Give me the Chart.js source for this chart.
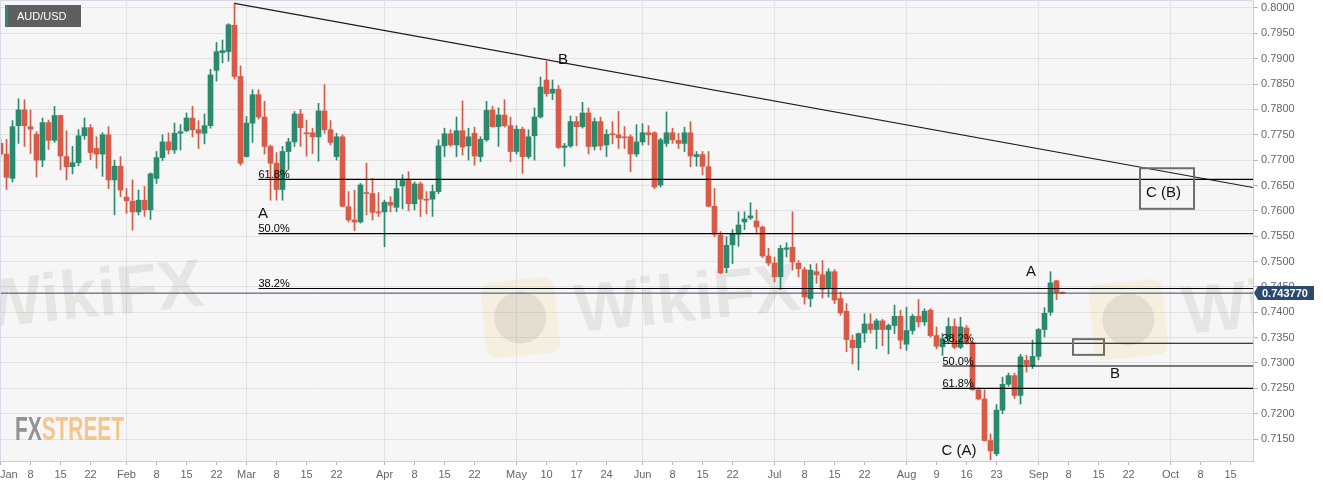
<!DOCTYPE html>
<html>
<head>
<meta charset="utf-8">
<title>AUD/USD daily</title>
<script src="https://cdn.jsdelivr.net/npm/chart.js@4.4.1/dist/chart.umd.min.js"></script>
<style>
  html, body { margin: 0; padding: 0; background: #fff; }
  #wrap { width: 1323px; height: 487px; position: relative; }
</style>
</head>
<body>
<div id="wrap"><canvas id="chart"></canvas></div>
<script>
// one candle per weekday, index 0 = Fri 1 Jan 2021
const opens = [
  0.7733,0.7712,0.7664,0.7768,0.7799,0.7766,0.7751,0.7700,0.7774,0.7739,
  0.7788,0.7707,0.7687,0.7695,0.7748,0.7764,0.7723,0.7712,0.7750,0.7661,
  0.7688,0.7627,0.7619,0.7598,0.7621,0.7602,0.7664,0.7705,0.7736,0.7720,
  0.7753,0.7758,0.7783,0.7760,0.7753,0.7768,0.7877,0.7912,0.7914,0.7966,
  0.7865,0.7707,0.7773,0.7829,0.7785,0.7727,0.7694,0.7642,0.7717,0.7736,
  0.7791,0.7754,0.7754,0.7746,0.7797,0.7760,0.7707,0.7746,0.7608,0.7582,
  0.7578,0.7636,0.7634,0.7598,0.7598,0.7617,0.7607,0.7649,0.7660,0.7614,
  0.7653,0.7623,0.7623,0.7638,0.7728,0.7752,0.7730,0.7758,0.7728,0.7753,
  0.7707,0.7740,0.7799,0.7766,0.7789,0.7768,0.7717,0.7761,0.7707,0.7748,
  0.7785,0.7858,0.7832,0.7840,0.7725,0.7728,0.7776,0.7766,0.7793,0.7727,
  0.7776,0.7730,0.7751,0.7750,0.7746,0.7746,0.7712,0.7736,0.7754,0.7754,
  0.7651,0.7733,0.7754,0.7739,0.7733,0.7754,0.7707,0.7711,0.7687,0.7609,
  0.7552,0.7488,0.7533,0.7554,0.7578,0.7586,0.7580,0.7568,0.7511,0.7497,
  0.7470,0.7524,0.7528,0.7497,0.7484,0.7427,0.7480,0.7474,0.7447,0.7480,
  0.7427,0.7402,0.7345,0.7330,0.7359,0.7377,0.7366,0.7383,0.7366,0.7374,
  0.7392,0.7337,0.7364,0.7392,0.7381,0.7404,0.7354,0.7332,0.7348,0.7372,
  0.7331,0.7369,0.7340,0.7247,0.7229,0.7147,0.7121,0.7207,0.7258,0.7275,
  0.7236,0.7305,0.7295,0.7313,0.7366,0.7400,0.7462,0.7438
];
const highs = [
  0.7743,0.7741,0.7778,0.7821,0.7819,0.7799,0.7756,0.7783,0.7779,0.7806,
  0.7789,0.7758,0.7727,0.7760,0.7783,0.7770,0.7746,0.7754,0.7766,0.7700,
  0.7707,0.7644,0.7661,0.7641,0.7648,0.7675,0.7717,0.7750,0.7754,0.7773,
  0.7770,0.7793,0.7806,0.7778,0.7791,0.7879,0.7932,0.7937,0.7969,0.8010,
  0.7886,0.7786,0.7839,0.7839,0.7816,0.7730,0.7715,0.7727,0.7743,0.7796,
  0.7800,0.7779,0.7763,0.7812,0.7849,0.7778,0.7753,0.7750,0.7638,0.7641,
  0.7654,0.7694,0.7664,0.7636,0.7621,0.7628,0.7661,0.7671,0.7677,0.7657,
  0.7657,0.7638,0.7651,0.7740,0.7763,0.7760,0.7785,0.7817,0.7763,0.7765,
  0.7746,0.7816,0.7806,0.7803,0.7819,0.7785,0.7768,0.7765,0.7760,0.7803,
  0.7864,0.7895,0.7858,0.7847,0.7733,0.7787,0.7786,0.7814,0.7803,0.7783,
  0.7785,0.7760,0.7776,0.7796,0.7766,0.7750,0.7770,0.7772,0.7768,0.7756,
  0.7743,0.7795,0.7763,0.7753,0.7765,0.7776,0.7717,0.7717,0.7717,0.7644,
  0.7559,0.7549,0.7563,0.7598,0.7598,0.7616,0.7602,0.7570,0.7526,0.7509,
  0.7532,0.7537,0.7598,0.7502,0.7489,0.7494,0.7496,0.7502,0.7486,0.7484,
  0.7440,0.7417,0.7355,0.7359,0.7397,0.7397,0.7387,0.7386,0.7377,0.7414,
  0.7404,0.7410,0.7396,0.7425,0.7407,0.7407,0.7371,0.7358,0.7389,0.7387,
  0.7390,0.7374,0.7341,0.7251,0.7247,0.7160,0.7218,0.7272,0.7280,0.7280,
  0.7317,0.7315,0.7345,0.7368,0.7409,0.7480,0.7463,0.7440
];
const lows = [
  0.7707,0.7642,0.7657,0.7733,0.7727,0.7713,0.7667,0.7687,0.7721,0.7735,
  0.7681,0.7661,0.7673,0.7689,0.7741,0.7701,0.7684,0.7668,0.7644,0.7592,
  0.7628,0.7595,0.7562,0.7592,0.7589,0.7583,0.7654,0.7699,0.7712,0.7713,
  0.7720,0.7756,0.7746,0.7723,0.7732,0.7763,0.7856,0.7892,0.7895,0.7860,
  0.7690,0.7706,0.7735,0.7781,0.7712,0.7621,0.7621,0.7621,0.7681,0.7727,
  0.7727,0.7708,0.7713,0.7698,0.7753,0.7730,0.7700,0.7608,0.7578,0.7561,
  0.7576,0.7592,0.7582,0.7589,0.7529,0.7598,0.7598,0.7604,0.7600,0.7602,
  0.7589,0.7594,0.7589,0.7634,0.7707,0.7727,0.7707,0.7710,0.7700,0.7690,
  0.7697,0.7737,0.7765,0.7727,0.7765,0.7697,0.7712,0.7674,0.7703,0.7700,
  0.7783,0.7826,0.7819,0.7723,0.7688,0.7725,0.7728,0.7763,0.7712,0.7720,
  0.7720,0.7707,0.7732,0.7723,0.7723,0.7677,0.7707,0.7730,0.7730,0.7644,
  0.7647,0.7727,0.7733,0.7723,0.7717,0.7687,0.7688,0.7671,0.7608,0.7549,
  0.7476,0.7478,0.7496,0.7530,0.7563,0.7583,0.7554,0.7508,0.7492,0.7460,
  0.7445,0.7509,0.7483,0.7470,0.7416,0.7411,0.7457,0.7428,0.7430,0.7417,
  0.7394,0.7322,0.7298,0.7286,0.7341,0.7359,0.7328,0.7334,0.7318,0.7358,
  0.7328,0.7325,0.7357,0.7371,0.7374,0.7351,0.7328,0.7315,0.7338,0.7328,
  0.7328,0.7337,0.7246,0.7227,0.7146,0.7109,0.7117,0.7200,0.7254,0.7230,
  0.7219,0.7282,0.7289,0.7306,0.7351,0.7394,0.7425,0.7436
];
const closes = [
  0.7712,0.7666,0.7766,0.7799,0.7768,0.7761,0.7700,0.7774,0.7739,0.7788,
  0.7708,0.7687,0.7695,0.7748,0.7764,0.7715,0.7712,0.7750,0.7661,0.7688,
  0.7641,0.7620,0.7598,0.7621,0.7602,0.7673,0.7705,0.7736,0.7720,0.7753,
  0.7756,0.7783,0.7760,0.7753,0.7768,0.7868,0.7914,0.7916,0.7967,0.7865,
  0.7694,0.7773,0.7829,0.7785,0.7727,0.7694,0.7642,0.7717,0.7736,0.7791,
  0.7764,0.7752,0.7746,0.7797,0.7760,0.7735,0.7746,0.7609,0.7582,0.7578,
  0.7651,0.7634,0.7597,0.7596,0.7617,0.7611,0.7644,0.7660,0.7614,0.7653,
  0.7623,0.7621,0.7638,0.7728,0.7752,0.7730,0.7758,0.7726,0.7746,0.7708,
  0.7741,0.7798,0.7766,0.7789,0.7768,0.7717,0.7761,0.7707,0.7746,0.7785,
  0.7844,0.7831,0.7840,0.7725,0.7728,0.7776,0.7766,0.7793,0.7727,0.7776,
  0.7728,0.7751,0.7750,0.7744,0.7744,0.7712,0.7736,0.7754,0.7750,0.7647,
  0.7740,0.7754,0.7740,0.7733,0.7754,0.7708,0.7711,0.7688,0.7609,0.7554,
  0.7478,0.7532,0.7554,0.7572,0.7584,0.7590,0.7568,0.7511,0.7497,0.7470,
  0.7526,0.7527,0.7499,0.7486,0.7430,0.7483,0.7474,0.7445,0.7480,0.7424,
  0.7399,0.7346,0.7330,0.7358,0.7377,0.7366,0.7383,0.7366,0.7374,0.7392,
  0.7345,0.7364,0.7392,0.7381,0.7402,0.7354,0.7333,0.7348,0.7372,0.7331,
  0.7371,0.7340,0.7247,0.7229,0.7147,0.7127,0.7207,0.7258,0.7275,0.7236,
  0.7312,0.7297,0.7313,0.7366,0.7398,0.7458,0.7438,0.74377
];

// x axis: weekday index of each tick and its text
const tickDays = [0,5,10,15,21,26,31,36,41,46,51,56,64,69,74,79,86,91,96,101,
  107,112,117,122,129,134,139,144,151,156,161,166,173,178,183,188,195,200,205];
const tickText = ['Jan','8','15','22','Feb','8','15','22','Mar','8','15','22','Apr','8','15','22',
  'May','10','17','24','Jun','8','15','22','Jul','8','15','22','Aug','9','16','23',
  'Sep','8','15','22','Oct','8','15'];
const monthDays = [0,21,41,64,86,107,129,151,173,195];
const priceTicks = [0.715,0.72,0.725,0.73,0.735,0.74,0.745,0.75,0.755,0.76,
  0.765,0.77,0.775,0.78,0.785,0.79,0.795,0.8];

// drawn studies
const trendDays = [39, 208.75];
const trendPrices = [0.8009, 0.7646];
const fibHighLevels = [0.7447, 0.7555, 0.7662];
const fibHighText = ['38.2%', '50.0%', '61.8%'];
const fibHighStart = 43;
const fibLowLevels = [0.7339, 0.7294, 0.7250];
const fibLowText = ['38.2%', '50.0%', '61.8%'];
const fibLowStart = 157;
const waveText = ['B', 'A', 'A', 'B', 'C (A)', 'C (B)'];
const waveDays = [93.75, 43.75, 171.75, 185.75, 159.75, 193.83];
const wavePrices = [0.7897, 0.7594, 0.7479, 0.7278, 0.7127, 0.7636];
const boxDays = [[178.75, 183.92], [189.92, 198.92]];
const boxPrices = [[0.7347, 0.7316], [0.7684, 0.7604]];

const lastClose = closes[closes.length - 1];
const GREEN = '#2b8a6d';
const RED = '#d95a46';
const FONT = "'Liberation Sans', Arial, sans-serif";

const days = opens.map((_, i) => i);
const candleColors = days.map(i => closes[i] >= opens[i] ? GREEN : RED);

function hLine(level, fromDay, color, width) {
  return {
    type: 'line',
    data: [{ x: fromDay, y: level }, { x: 230, y: level }],
    borderColor: color,
    borderWidth: width,
    pointRadius: 0,
    order: 0
  };
}

const lineSets = [];
fibHighLevels.forEach(v => lineSets.push(hLine(v, fibHighStart, '#000', 1.1)));
fibLowLevels.forEach(v => lineSets.push(hLine(v, fibLowStart, '#000', 1.1)));
lineSets.push(hLine(lastClose, -5, '#2d4a6e', 1));
lineSets.push({
  type: 'line',
  data: trendDays.map((d, i) => ({ x: d, y: trendPrices[i] })),
  borderColor: '#1a1a1a',
  borderWidth: 1.2,
  pointRadius: 0,
  order: 0
});

function watermark(ctx, x, y) {
  ctx.save();
  ctx.translate(x, y);
  ctx.rotate(-0.1);
  ctx.fillStyle = 'rgba(245, 205, 110, 0.17)';
  ctx.beginPath();
  ctx.roundRect(-92, -58, 74, 76, 10);
  ctx.fill();
  ctx.fillStyle = 'rgba(110, 95, 110, 0.13)';
  ctx.beginPath();
  ctx.arc(-55, -20, 26, 0, Math.PI * 2);
  ctx.fill();
  ctx.font = 'bold 68px ' + FONT;
  ctx.fillStyle = 'rgba(120, 95, 95, 0.12)';
  ctx.textBaseline = 'alphabetic';
  ctx.fillText('WikiFX', 0, 0);
  ctx.restore();
}

// keep both axes mapped edge to edge on the plot area
function noPad(s) {
  s.paddingLeft = 0;
  s.paddingRight = 0;
  s.paddingTop = 0;
  s.paddingBottom = 0;
}

const decor = {
  id: 'decor',
  beforeDraw(chart) {
    const { ctx, chartArea: a, width, height } = chart;
    ctx.save();
    ctx.fillStyle = '#ffffff';
    ctx.fillRect(0, 0, width, height);
    ctx.fillStyle = '#f6f6f6';
    ctx.fillRect(a.left, a.top, a.right - a.left, a.bottom - a.top);
    ctx.restore();
  },
  beforeDatasetsDraw(chart) {
    const { ctx, chartArea: a } = chart;
    ctx.save();
    ctx.beginPath();
    ctx.rect(a.left, a.top, a.right - a.left, a.bottom - a.top);
    ctx.clip();
    watermark(ctx, -20, 328);
    watermark(ctx, 577, 332);
    watermark(ctx, 1185, 334);
    // FXSTREET logo
    ctx.font = 'bold 34px "Liberation Sans Narrow", ' + FONT;
    const wFx = ctx.measureText('FX').width;
    const wSt = ctx.measureText('STREET').width;
    ctx.translate(15, 440);
    ctx.scale(109 / (wFx + wSt), 1);
    ctx.fillStyle = 'rgba(128, 128, 128, 0.85)';
    ctx.fillText('FX', 0, 0);
    ctx.fillStyle = 'rgba(240, 188, 118, 0.8)';
    ctx.fillText('STREET', wFx, 0);
    ctx.restore();
  },
  afterDatasetsDraw(chart) {
    const { ctx, chartArea: a, scales: { x, y } } = chart;
    ctx.save();

    // frame top / left
    ctx.strokeStyle = '#d9d9e6';
    ctx.lineWidth = 1;
    ctx.beginPath();
    ctx.moveTo(0.5, a.bottom);
    ctx.lineTo(0.5, 0.5);
    ctx.lineTo(a.right, 0.5);
    ctx.stroke();

    // fibonacci captions
    ctx.fillStyle = '#000';
    ctx.font = '11px ' + FONT;
    ctx.textAlign = 'left';
    ctx.textBaseline = 'alphabetic';
    fibHighLevels.forEach((v, i) => {
      ctx.fillText(fibHighText[i], x.getPixelForValue(fibHighStart), y.getPixelForValue(v) - 1.5);
    });
    fibLowLevels.forEach((v, i) => {
      ctx.fillText(fibLowText[i], x.getPixelForValue(fibLowStart), y.getPixelForValue(v) - 1.5);
    });

    // wave labels
    ctx.font = '15px ' + FONT;
    ctx.textAlign = 'center';
    ctx.textBaseline = 'middle';
    ctx.fillStyle = '#111';
    waveText.forEach((t, i) => {
      ctx.fillText(t, x.getPixelForValue(waveDays[i]), y.getPixelForValue(wavePrices[i]));
    });

    // target boxes
    ctx.strokeStyle = '#6e6e6e';
    ctx.lineWidth = 2;
    boxDays.forEach((d, i) => {
      const x0 = x.getPixelForValue(d[0]), x1 = x.getPixelForValue(d[1]);
      const y0 = y.getPixelForValue(boxPrices[i][0]), y1 = y.getPixelForValue(boxPrices[i][1]);
      ctx.strokeRect(x0, y0, x1 - x0, y1 - y0);
    });

    // last price tag
    const py = Math.round(y.getPixelForValue(lastClose));
    ctx.fillStyle = '#2c4a6d';
    ctx.beginPath();
    ctx.moveTo(a.right + 1, py);
    ctx.lineTo(a.right + 5, py - 7);
    ctx.lineTo(a.right + 5, py + 7);
    ctx.closePath();
    ctx.fill();
    ctx.fillRect(a.right + 5, py - 7, 56, 14);
    ctx.fillStyle = '#fff';
    ctx.font = 'bold 11px ' + FONT;
    ctx.textAlign = 'left';
    ctx.fillText(lastClose.toFixed(6), a.right + 9, py + 0.5);

    // symbol badge
    ctx.fillStyle = '#5f5f5f';
    ctx.fillRect(5, 5, 76, 22);
    ctx.fillStyle = GREEN;
    ctx.fillRect(5, 5, 3, 22);
    ctx.fillStyle = '#fff';
    ctx.font = '11px ' + FONT;
    ctx.fillText('AUD/USD', 17, 16.5);

    // first month label, kept inside the canvas
    ctx.fillStyle = '#666';
    ctx.fillText(tickText[0], 0, a.bottom + 13.5);
    ctx.restore();
  }
};

Chart.defaults.font.family = FONT;

new Chart(document.getElementById('chart'), {
  type: 'bar',
  data: {
    datasets: [
      {
        type: 'bar',
        data: days.map(i => ({ x: i, y: [lows[i], highs[i]] })),
        backgroundColor: candleColors,
        borderWidth: 0,
        barThickness: 1,
        grouped: false,
        order: 3
      },
      {
        type: 'bar',
        data: days.map(i => ({ x: i, y: [opens[i], closes[i]] })),
        backgroundColor: candleColors,
        borderWidth: 0,
        barThickness: 5,
        minBarLength: 1,
        grouped: false,
        order: 2
      },
      ...lineSets
    ]
  },
  options: {
    responsive: true,
    maintainAspectRatio: false,
    animation: false,
    events: [],
    layout: { autoPadding: false, padding: { top: 1, left: 0, right: 0, bottom: 0 } },
    plugins: { legend: { display: false }, tooltip: { enabled: false } },
    scales: {
      x: {
        type: 'linear',
        offset: false,
        min: -1 / 12,
        max: -1 / 12 + 1253 / 6,
        afterBuildTicks: s => { s.ticks = tickDays.map(v => ({ value: v })); },
        afterFit: s => { s.height = 26; noPad(s); },
        ticks: {
          autoSkip: false,
          maxRotation: 0,
          minRotation: 0,
          padding: 3,
          color: '#666',
          font: { size: 11 },
          callback: (v, i) => i === 0 ? '' : tickText[i]
        },
        grid: {
          offset: false,
          color: c => (c.tick && monthDays.includes(c.tick.value)) ? '#e2e2e4' : 'rgba(0,0,0,0)',
          tickColor: '#b4b4c4',
          tickLength: 4
        },
        border: { color: '#cbcbdc' }
      },
      y: {
        position: 'right',
        min: 0.71067,
        max: 0.80138,
        afterBuildTicks: s => { s.ticks = priceTicks.map(v => ({ value: v })); },
        afterFit: s => { s.width = 70; noPad(s); },
        ticks: {
          padding: 3,
          color: '#666',
          font: { size: 11 },
          callback: v => v.toFixed(4)
        },
        grid: { color: '#e3e3e3', tickColor: '#b4b4c4', tickLength: 5 },
        border: { color: '#cbcbdc' }
      }
    }
  },
  plugins: [decor]
});
</script>
</body>
</html>
